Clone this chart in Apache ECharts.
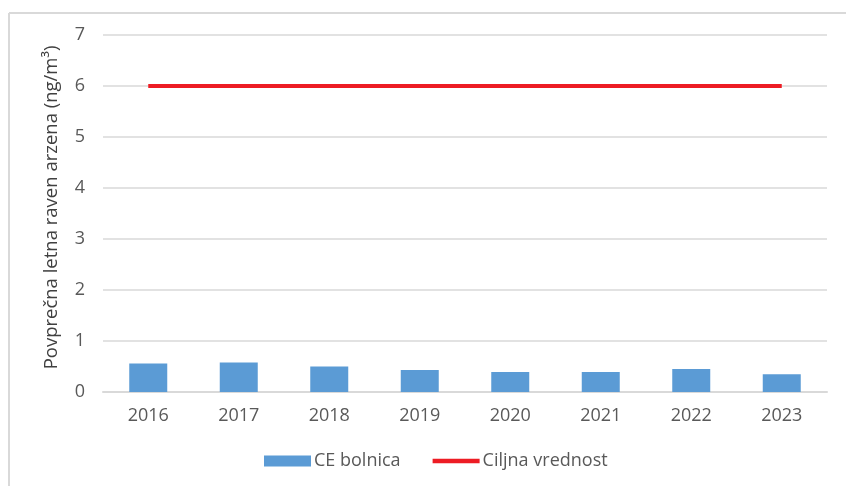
<!DOCTYPE html>
<html>
<head>
<meta charset="utf-8">
<script src="https://cdn.jsdelivr.net/npm/echarts@6/dist/echarts.min.js"></script>
<style>
  html, body { margin: 0; padding: 0; background: #ffffff; }
  #chart { width: 846px; height: 486px; }
</style>
</head>
<body>
<div id="chart"></div>
<script>
  // podatki
  var years = ['2016', '2017', '2018', '2019', '2020', '2021', '2022', '2023'];
  var ceBolnica = [0.56, 0.58, 0.50, 0.43, 0.39, 0.39, 0.45, 0.35];
  var ciljnaVrednost = [6, 6, 6, 6, 6, 6, 6, 6];
  var yTicks = [0, 1, 2, 3, 4, 5, 6, 7];

  var textColor = '#595959';
  var gridColor = '#d9d9d9';
  var font = '"Open Sans", "Liberation Sans", sans-serif';

  var chart = echarts.init(document.getElementById('chart'));

  chart.setOption({
    animation: false,
    backgroundColor: '#ffffff',
    textStyle: { fontFamily: font },
    // okvir grafa (samo zgoraj in levo)
    graphic: [
      { type: 'line', shape: { x1: 9, y1: 13, x2: 846, y2: 13 }, style: { stroke: gridColor, lineWidth: 2 } },
      { type: 'line', shape: { x1: 9, y1: 13, x2: 9, y2: 486 }, style: { stroke: gridColor, lineWidth: 2 } }
    ],
    grid: {
      left: 103,
      right: 19,
      top: 35,
      bottom: 94
    },
    xAxis: {
      type: 'category',
      data: years,
      axisLine: { lineStyle: { color: gridColor, width: 2 } },
      axisTick: { show: false },
      axisLabel: { color: textColor, fontSize: 18, margin: 15, fontFamily: font }
    },
    yAxis: {
      type: 'value',
      min: yTicks[0],
      max: yTicks[yTicks.length - 1],
      interval: 1,
      name: 'Povprečna letna raven arzena (ng/m³)',
      nameLocation: 'middle',
      nameGap: 42,
      nameTextStyle: { color: '#404040', fontSize: 18.5, fontFamily: font, padding: [0, 0, 0, 12] },
      axisLine: { show: false },
      axisTick: { show: false },
      axisLabel: { color: textColor, fontSize: 18, margin: 18, fontFamily: font },
      splitLine: { lineStyle: { color: gridColor, width: 1.5 } }
    },
    legend: {
      bottom: 11,
      left: 259,
      itemGap: 32,
      itemWidth: 47,
      itemHeight: 11,
      textStyle: { color: textColor, fontSize: 18, fontFamily: font, padding: [0, 0, 0, -2] },
      data: [
        { name: 'CE bolnica', icon: 'rect' },
        { name: 'Ciljna vrednost', icon: 'path://M0,0H110V10H0Z', itemStyle: { color: '#ed1c24' } }
      ]
    },
    series: [
      {
        name: 'CE bolnica',
        type: 'bar',
        data: ceBolnica,
        barWidth: 38,
        itemStyle: { color: '#5b9bd5' }
      },
      {
        name: 'Ciljna vrednost',
        type: 'line',
        data: ciljnaVrednost,
        symbol: 'none',
        lineStyle: { color: '#ed1c24', width: 4 },
        itemStyle: { color: '#ed1c24' }
      }
    ]
  });
</script>
</body>
</html>
